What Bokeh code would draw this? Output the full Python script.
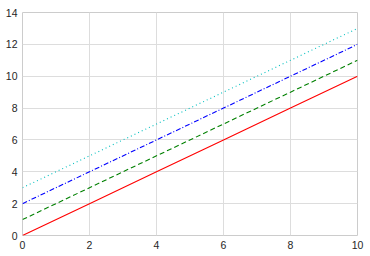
from bokeh.plotting import figure
from bokeh.models import Range1d, FixedTicker
from bokeh.embed import file_html
from bokeh.resources import INLINE

x = [0, 2, 4, 6, 8, 10]
y_solid = [0, 2, 4, 6, 8, 10]
y_dashed = [1, 3, 5, 7, 9, 11]
y_dashdot = [2, 4, 6, 8, 10, 12]
y_dotted = [3, 5, 7, 9, 11, 13]
x_ticks = [0, 2, 4, 6, 8, 10]
y_ticks = [0, 2, 4, 6, 8, 10, 12, 14]

p = figure(width=370, height=256, output_backend="svg", toolbar_location=None,
           x_range=Range1d(0, 10), y_range=Range1d(0, 14),
           min_border_left=22, min_border_right=13, min_border_top=12, min_border_bottom=21)
p.background_fill_color = "white"
p.border_fill_color = "white"
p.outline_line_color = "#cccccc"
p.outline_line_width = 1

p.line(x, y_solid, line_color="red", line_width=1.1)
p.line(x, y_dashed, line_color="green", line_width=1.1, line_dash="5 3")
p.line(x, y_dashdot, line_color="blue", line_width=1.1, line_dash="5 2 1 2")
p.line(x, y_dotted, line_color="#00bfbf", line_width=1.1, line_dash="1 3")

for ax in (p.xaxis[0], p.yaxis[0]):
    ax.axis_line_color = None
    ax.major_tick_line_color = None
    ax.minor_tick_line_color = None
    ax.major_tick_out = 0
    ax.major_tick_in = 0
    ax.minor_tick_out = 0
    ax.minor_tick_in = 0
    ax.major_label_text_font = "Liberation Sans"
    ax.major_label_text_font_size = "10.5px"
    ax.major_label_text_color = "#262626"
    ax.major_label_standoff = 5
p.xaxis.ticker = FixedTicker(ticks=x_ticks)
p.yaxis.ticker = FixedTicker(ticks=y_ticks)
p.grid.grid_line_color = "#dddddd"
p.grid.grid_line_width = 1

open("out.html", "w").write(file_html(p, INLINE))
